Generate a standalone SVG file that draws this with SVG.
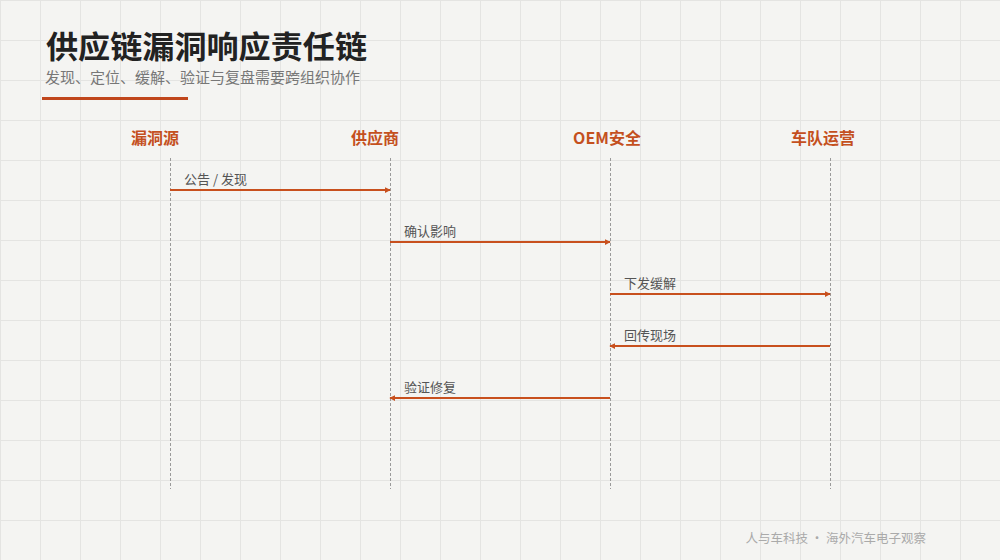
<svg xmlns="http://www.w3.org/2000/svg" width="1000" height="560" viewBox="0 0 1000 560">
  <defs>
    <pattern id="grid" x="0" y="0" width="40" height="40" patternUnits="userSpaceOnUse">
      <path d="M0.5 0V40M0 0.5H40" fill="none" stroke="#e4e4e2" stroke-width="1"/>
    </pattern>
    <marker id="arr" viewBox="0 0 8 8" refX="7" refY="4" markerWidth="6" markerHeight="6" markerUnits="userSpaceOnUse" orient="auto">
      <path d="M0 0L8 4L0 8z" fill="#c8501e"/>
    </marker>
    <style>
      .title{font-family:"Noto Sans CJK SC","Noto Sans",sans-serif;font-weight:700;font-size:31px;fill:#222}
      .sub{font-family:"Noto Sans CJK SC","Noto Sans",sans-serif;font-size:15px;fill:#777}
      .actor{font-family:"Noto Sans CJK SC","Noto Sans",sans-serif;font-weight:700;font-size:16px;fill:#c4501e;text-anchor:middle}
      .life{stroke:#9a9a9a;stroke-width:1;stroke-dasharray:3 2;fill:none}
      .msg{stroke:#c8501e;stroke-width:2;fill:none}
      .lbl{font-family:"Noto Sans CJK SC","Noto Sans",sans-serif;font-size:13px;fill:#555}
      .foot{font-family:"Noto Sans CJK SC","Noto Sans",sans-serif;font-size:12.5px;fill:#aaa;text-anchor:end}
    </style>
  </defs>
  <rect width="1000" height="560" fill="#f4f4f2"/>
  <rect width="1000" height="560" fill="url(#grid)"/>

  <g id="header">
    <text class="title" x="46" y="58" textLength="321" lengthAdjust="spacingAndGlyphs">供应链漏洞响应责任链</text>
    <text class="sub" x="45" y="83">发现、定位、缓解、验证与复盘需要跨组织协作</text>
    <rect x="42" y="97" width="146" height="3" fill="#c0461c"/>
  </g>

  <g id="actor-source">
    <text class="actor" x="155" y="144">漏洞源</text>
    <line class="life" x1="170.5" y1="158" x2="170.5" y2="489"/>
  </g>
  <g id="actor-supplier">
    <text class="actor" x="375" y="144">供应商</text>
    <line class="life" x1="390.5" y1="158" x2="390.5" y2="489"/>
  </g>
  <g id="actor-oem">
    <text class="actor" x="607" y="144">OEM安全</text>
    <line class="life" x1="610.5" y1="158" x2="610.5" y2="489"/>
  </g>
  <g id="actor-fleet">
    <text class="actor" x="823" y="144">车队运营</text>
    <line class="life" x1="830.5" y1="158" x2="830.5" y2="489"/>
  </g>

  <g id="connectors">
    <line class="msg" x1="170" y1="190" x2="390" y2="190" marker-end="url(#arr)"/>
    <text class="lbl" x="184" y="184">公告 / 发现</text>
    <line class="msg" x1="390" y1="242" x2="610" y2="242" marker-end="url(#arr)"/>
    <text class="lbl" x="404" y="236">确认影响</text>
    <line class="msg" x1="610" y1="294" x2="830" y2="294" marker-end="url(#arr)"/>
    <text class="lbl" x="624" y="288">下发缓解</text>
    <line class="msg" x1="830" y1="346" x2="610" y2="346" marker-end="url(#arr)"/>
    <text class="lbl" x="624" y="340">回传现场</text>
    <line class="msg" x1="610" y1="398" x2="390" y2="398" marker-end="url(#arr)"/>
    <text class="lbl" x="404" y="392">验证修复</text>
  </g>

  <text class="foot" x="926" y="543">人与车科技 · 海外汽车电子观察</text>
</svg>
